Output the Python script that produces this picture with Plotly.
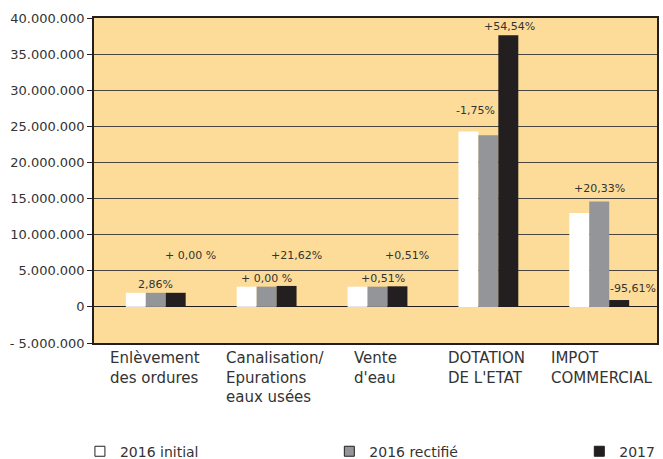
"""Recettes par poste : 2016 initial / 2016 rectifié / 2017 (Plotly)."""

import plotly.graph_objects as go

# --- données -----------------------------------------------------------------
categories = [
    "Enlèvement<br>des ordures",
    "Canalisation/<br>Epurations<br>eaux usées",
    "Vente<br>d'eau",
    "DOTATION<br>DE L'ETAT",
    "IMPOT<br>COMMERCIAL",
]
series_names = ["2016 initial", "2016 rectifié", "2017"]
initial_2016 = [1_950_000, 2_800_000, 2_800_000, 24_300_000, 13_000_000]
rectifie_2016 = [1_950_000, 2_800_000, 2_800_000, 23_750_000, 14_600_000]
annee_2017 = [1_950_000, 2_900_000, 2_850_000, 37_600_000, 950_000]

y_tickvals = [-5_000_000, 0, 5_000_000, 10_000_000, 15_000_000,
              20_000_000, 25_000_000, 30_000_000, 35_000_000, 40_000_000]
y_ticktext = ["- 5.000.000", "0", "5.000.000", "10.000.000", "15.000.000",
              "20.000.000", "25.000.000", "30.000.000", "35.000.000", "40.000.000"]

# variations affichées : (catégorie, série, texte)
variations = [
    (0, 1, "2,86%"),
    (0, 2, "+ 0,00 %"),
    (1, 1, "+ 0,00 %"),
    (1, 2, "+21,62%"),
    (2, 1, "+0,51%"),
    (2, 2, "+0,51%"),
    (3, 0, "-1,75%"),
    (3, 2, "+54,54%"),
    (4, 1, "+20,33%"),
    (4, 2, "-95,61%"),
]
# décalages (px) des étiquettes par rapport au haut de la barre
label_shifts = [(0, 0), (15, 29), (0, 0), (10, 22), (5, 0),
                (9, 22), (7, 12), (1, 0), (0, 4), (14, 3)]

# --- style -------------------------------------------------------------------
colors = ["#FFFFFF", "#939598", "#231F20"]
BG = "#FCDC98"
FONT = "DejaVu Sans"
TEXT = "#333333"
BAR_PX = 20  # largeur d'une barre à l'écran
legend_x = [-0.025, 0.418, 0.862]

values = [initial_2016, rectifie_2016, annee_2017]

fig = go.Figure()
for name, ys, color in zip(series_names, values, colors):
    fig.add_trace(go.Bar(
        x=categories, y=ys, name=name, marker_color=color,
        marker_line_width=0, showlegend=False,
    ))

# entrées de légende (carrés), une légende par série pour les espacer
legend_ids = ["legend", "legend2", "legend3"]
for name, color, lid in zip(series_names, colors, legend_ids):
    fig.add_trace(go.Scatter(
        x=[None], y=[None], mode="markers", name=name, legend=lid,
        marker=dict(symbol="square", size=10, color=color,
                    line=dict(color="#231F20", width=1)),
    ))

for (ci, si, txt), (dx, dy) in zip(variations, label_shifts):
    fig.add_annotation(
        x=categories[ci], y=values[si][ci], text=txt, showarrow=False,
        xanchor="center", yanchor="bottom",
        xshift=(si - 1) * BAR_PX + dx, yshift=dy,
        font=dict(family=FONT, size=11, color=TEXT),
    )

# libellés des catégories, alignés à gauche
cat_shifts = [-48, -43, -26, -42, -50]
for cat, dx in zip(categories, cat_shifts):
    fig.add_annotation(
        x=cat, y=0, yref="paper", yanchor="top", yshift=-4,
        xanchor="left", xshift=dx, align="left", text=cat, showarrow=False,
        font=dict(family=FONT, size=15, color=TEXT),
    )

legend_style = dict(
    orientation="h", xanchor="left", yref="container", y=0.016,
    yanchor="middle", font=dict(family=FONT, size=14, color=TEXT),
    bgcolor="rgba(0,0,0,0)",
)
fig.update_layout(
    width=663, height=459,
    margin=dict(l=94, r=4, t=18, b=116),
    barmode="group", bargap=0.46, bargroupgap=0,
    paper_bgcolor="white", plot_bgcolor=BG,
    font=dict(family=FONT, color=TEXT),
    legend=dict(x=legend_x[0], **legend_style),
    legend2=dict(x=legend_x[1], **legend_style),
    legend3=dict(x=legend_x[2], **legend_style),
)
fig.update_xaxes(
    range=[-0.557, 4.521],
    showticklabels=False, showgrid=False, zeroline=False,
    showline=True, linecolor="#231F20", linewidth=1.5, mirror=True,
)
fig.update_yaxes(
    range=[-5_000_000, 40_000_000], tickvals=y_tickvals, ticktext=y_ticktext,
    showgrid=True, gridcolor="#4A463E", gridwidth=1,
    zeroline=True, zerolinecolor="#231F20", zerolinewidth=1,
    showline=True, linecolor="#231F20", linewidth=1.5, mirror=True,
    ticks="outside", ticklen=5, tickcolor="#231F20",
    tickfont=dict(family=FONT, size=13, color=TEXT),
)

fig.write_html(
    "out.html",
    config={"displayModeBar": False},
    post_script="document.body.style.margin='0';",
)
